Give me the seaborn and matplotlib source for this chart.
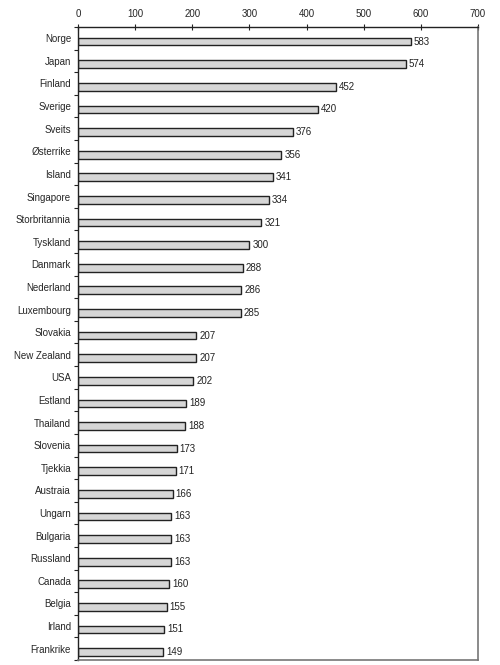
import matplotlib
matplotlib.use("Agg")
import matplotlib.pyplot as plt
import numpy as np
import pandas as pd
import seaborn as sns

countries = ["Norge", "Japan", "Finland", "Sverige", "Sveits", "Østerrike",
             "Island", "Singapore", "Storbritannia", "Tyskland", "Danmark",
             "Nederland", "Luxembourg", "Slovakia", "New Zealand", "USA",
             "Estland", "Thailand", "Slovenia", "Tjekkia", "Austraia", "Ungarn",
             "Bulgaria", "Russland", "Canada", "Belgia", "Irland", "Frankrike"]
values = [583, 574, 452, 420, 376, 356, 341, 334, 321, 300, 288, 286, 285,
          207, 207, 202, 189, 188, 173, 171, 166, 163, 163, 163, 160, 155,
          151, 149]
x_ticks = [0, 100, 200, 300, 400, 500, 600, 700]

df = pd.DataFrame({"land": countries, "verdi": values})

sns.set_theme(style="white")
plt.rcParams["font.family"] = ["Liberation Sans", "DejaVu Sans"]

fig = plt.figure(figsize=(5, 6.65), dpi=100)
ax = fig.add_axes([0.156, 0.0075, 0.8, 0.952])

sns.barplot(data=df, x="verdi", y="land", orient="h", ax=ax,
            color="#d6d6d6", edgecolor="#222222", linewidth=1.0,
            width=0.34, saturation=1)

# bars sit a little below the band centre in the original
for p in ax.patches:
    p.set_y(p.get_y() + 0.15)

for i, v in enumerate(values):
    ax.text(v + 5, i + 0.15, str(v), va="center", ha="left",
            fontsize=7, color="#222222")

ax.set_xlim(0, 700)
ax.set_ylim(len(countries) - 0.5, -0.5)
ax.set_xticks(x_ticks)
ax.xaxis.tick_top()
ax.tick_params(axis="x", which="major", direction="inout", length=5,
               width=0.8, color="#222222", labelsize=7, pad=3)
ax.set_yticks(np.arange(len(countries)))
ax.set_yticklabels(countries)
ax.set_yticks(np.arange(len(countries) + 1) - 0.5, minor=True)
ax.tick_params(axis="y", which="major", length=0, labelsize=7, pad=5)
ax.tick_params(axis="y", which="minor", direction="out", length=3,
               width=0.8, color="#222222", left=True)
ax.set_xlabel("")
ax.set_ylabel("")

for side in ["top", "left"]:
    ax.spines[side].set_color("#222222")
    ax.spines[side].set_linewidth(1.0)
for side in ["right", "bottom"]:
    ax.spines[side].set_color("#777777")
    ax.spines[side].set_linewidth(1.2)
for side in ax.spines:
    ax.spines[side].set_visible(True)

fig.savefig("out.png", dpi=100)
